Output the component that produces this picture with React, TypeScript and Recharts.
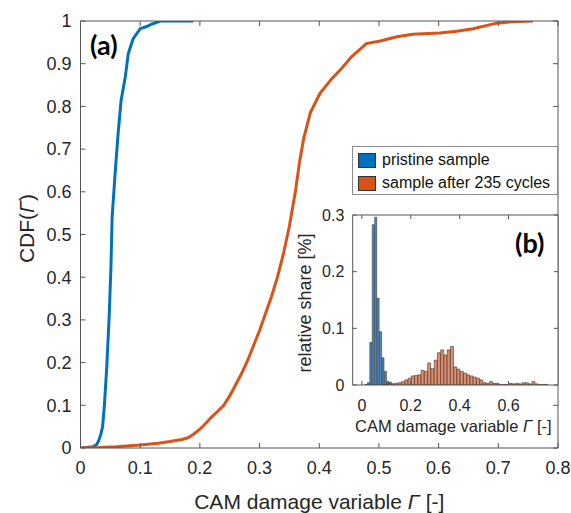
import React from 'react';
import { LineChart, Line, XAxis, YAxis, Legend, BarChart, Bar, CartesianGrid } from 'recharts';

const FONT = '"Liberation Sans", Arial, Helvetica, sans-serif';
const TXT = '#262626';
const AX = '#555555';

// ---- main CDF chart data ----
const blueCdfX = [0, 0.01, 0.021, 0.027, 0.031, 0.034, 0.037, 0.04, 0.044, 0.048, 0.051, 0.053, 0.058, 0.063, 0.068, 0.075, 0.08, 0.088, 0.1, 0.111, 0.12, 0.128, 0.133, 0.189];
const blueCdfY = [0, 0.001, 0.003, 0.008, 0.019, 0.032, 0.05, 0.1, 0.19, 0.307, 0.424, 0.541, 0.643, 0.736, 0.814, 0.869, 0.923, 0.958, 0.982, 0.987, 0.993, 0.997, 1.0, 1.0];
const orangeCdfX = [0, 0.03, 0.06, 0.1, 0.13, 0.15, 0.17, 0.18, 0.19, 0.2, 0.21, 0.22, 0.23, 0.24, 0.25, 0.26, 0.27, 0.28, 0.29, 0.3, 0.31, 0.32, 0.33, 0.34, 0.35, 0.36, 0.367, 0.374, 0.385, 0.401, 0.421, 0.435, 0.454, 0.479, 0.502, 0.53, 0.557, 0.602, 0.63, 0.658, 0.697, 0.72, 0.758];
const orangeCdfY = [0, 0.001, 0.003, 0.007, 0.011, 0.015, 0.02, 0.024, 0.033, 0.044, 0.058, 0.073, 0.086, 0.1, 0.122, 0.148, 0.175, 0.205, 0.24, 0.275, 0.315, 0.355, 0.4, 0.455, 0.52, 0.6, 0.67, 0.725, 0.785, 0.83, 0.865, 0.885, 0.916, 0.947, 0.953, 0.963, 0.969, 0.972, 0.976, 0.982, 0.995, 0.998, 1.0];
const seriesNames = ['pristine sample', 'sample after 235 cycles'];
const seriesColors = ['#0072BD', '#D95319'];

const mainXDomain = [0, 0.8];
const mainYDomain = [0, 1];
const mainXTicks = [0, 0.1, 0.2, 0.3, 0.4, 0.5, 0.6, 0.7, 0.8];
const mainYTicks = [0, 0.1, 0.2, 0.3, 0.4, 0.5, 0.6, 0.7, 0.8, 0.9, 1];

// ---- inset histogram data ----
const insetXDomain = [-0.0375, 0.8025];
const insetYDomain = [0, 0.3];
const insetXTicks = [0, 0.2, 0.4, 0.6];
const insetYTicks = [0, 0.1, 0.2, 0.3];
const blueBinCount = 84;
const orangeBinCount = 63;
const blueShare = [
  0, 0, 0, 0, 0, 0.001, 0.004, 0.075, 0.283, 0.296,
  0.153, 0.094, 0.048, 0.024, 0.006, 0.005, 0.002, 0.001, 0, 0,
  0, 0, 0, 0, 0, 0, 0, 0, 0, 0,
  0, 0, 0, 0, 0, 0, 0, 0, 0, 0,
  0, 0, 0, 0, 0, 0, 0, 0, 0, 0,
  0, 0, 0, 0, 0, 0, 0, 0, 0, 0,
  0, 0, 0, 0, 0, 0, 0, 0, 0, 0,
  0, 0, 0, 0, 0, 0, 0, 0, 0, 0,
  0, 0, 0, 0,
];
const orangeShare = [
  0, 0, 0, 0, 0, 0, 0, 0, 0, 0.001,
  0.001, 0.002, 0.002, 0.003, 0.004, 0.006, 0.009, 0.012, 0.016, 0.017,
  0.018, 0.026, 0.024, 0.039, 0.029, 0.044, 0.057, 0.062, 0.053, 0.062,
  0.068, 0.032, 0.028, 0.024, 0.021, 0.018, 0.016, 0.014, 0.012, 0.009,
  0.004, 0.003, 0.006, 0.003, 0.003, 0.001, 0.001, 0.001, 0.003, 0.002,
  0.003, 0.002, 0.004, 0.004, 0.002, 0.006, 0.002, 0.001, 0.001, 0.001,
  0, 0, 0,
];

const blueData = blueCdfX.map((x, i) => ({ x, y: blueCdfY[i] }));
const orangeData = orangeCdfX.map((x, i) => ({ x, y: orangeCdfY[i] }));
const span = insetXDomain[1] - insetXDomain[0];
const blueBins = blueShare.map((v, i) => ({ bin: i, x: insetXDomain[0] + ((i + 0.5) * span) / blueBinCount, v }));
const orangeBins = orangeShare.map((v, i) => ({ bin: i, x: insetXDomain[0] + ((i + 0.5) * span) / orangeBinCount, v }));

const tickStyle = (size: number) => ({ fontSize: size, fill: TXT, fontFamily: FONT });
const blank = () => '';

const MainXLabel = (props: any) => {
  const vb = props.viewBox || props;
  return (
    <text x={vb.x + vb.width / 2} y={vb.y + 61} textAnchor="middle" fontSize={21} fill={TXT} fontFamily={FONT}>
      CAM damage variable <tspan fontStyle="italic">Γ</tspan> [-]
    </text>
  );
};
const MainYLabel = (props: any) => {
  const vb = props.viewBox || props;
  const x = vb.x + 34;
  const y = vb.y + vb.height / 2 - 6;
  return (
    <text x={x} y={y} transform={`rotate(-90, ${x}, ${y})`} textAnchor="middle" fontSize={21} fill={TXT} fontFamily={FONT}>
      CDF(<tspan fontStyle="italic">Γ</tspan>)
    </text>
  );
};
const InsetXLabel = (props: any) => {
  const vb = props.viewBox || props;
  return (
    <text x={vb.x + vb.width / 2 - 2} y={vb.y + 47} textAnchor="middle" fontSize={16.5} fill={TXT} fontFamily={FONT}>
      CAM damage variable <tspan fontStyle="italic">Γ</tspan> [-]
    </text>
  );
};
const InsetYLabel = (props: any) => {
  const vb = props.viewBox || props;
  const x = vb.x + 31;
  const y = vb.y + vb.height / 2 + 3;
  return (
    <text x={x} y={y} transform={`rotate(-90, ${x}, ${y})`} textAnchor="middle" fontSize={18} fill={TXT} fontFamily={FONT}>
      relative share [%]
    </text>
  );
};

const renderLegend = (props: any) => {
  const payload = props.payload || [];
  return (
    <div style={{ border: '1px solid #8c8c8c', background: '#fff', paddingTop: 1.5, boxSizing: 'border-box', height: 49 }}>
      {payload.map((p: any) => (
        <div key={p.value} style={{ display: 'flex', alignItems: 'center', height: 23, paddingLeft: 5 }}>
          <div style={{ width: 16, height: 13, background: p.color, border: '1px solid #333', marginRight: 6 }} />
          <span style={{ fontSize: 16, fontFamily: FONT, color: '#111', whiteSpace: 'nowrap' }}>{p.value}</span>
        </div>
      ))}
    </div>
  );
};

export default function App() {
  return (
    <div style={{ position: 'absolute', left: 0, top: 0, width: 571, height: 513, background: '#fff' }}>
      <LineChart width={571} height={513} margin={{ top: 20, right: 12, bottom: 0, left: 0 }}>
        <XAxis xAxisId="b" type="number" dataKey="x" domain={mainXDomain} allowDataOverflow ticks={mainXTicks} interval={0}
          height={65} stroke={AX} tickSize={-5} tickMargin={18.7} tick={tickStyle(18)} label={MainXLabel} />
        <XAxis xAxisId="t" orientation="top" type="number" dataKey="x" domain={mainXDomain} allowDataOverflow ticks={mainXTicks} interval={0}
          height={1} stroke={AX} tickSize={-5} tickFormatter={blank} tick={tickStyle(18)} />
        <YAxis yAxisId="l" type="number" domain={mainYDomain} allowDataOverflow ticks={mainYTicks} interval={0}
          width={80.5} stroke={AX} tickSize={-5} tickMargin={14} tick={tickStyle(18)} label={MainYLabel} />
        <YAxis yAxisId="r" orientation="right" type="number" domain={mainYDomain} allowDataOverflow ticks={mainYTicks} interval={0}
          width={1} stroke={AX} tickSize={-5} tickFormatter={blank} tick={tickStyle(18)} />
        <Line xAxisId="b" yAxisId="l" data={blueData} dataKey="y" name={seriesNames[0]} stroke={seriesColors[0]} strokeWidth={3}
          dot={false} activeDot={false} isAnimationActive={false} />
        <Line xAxisId="b" yAxisId="l" data={orangeData} dataKey="y" name={seriesNames[1]} stroke={seriesColors[1]} strokeWidth={3}
          dot={false} activeDot={false} isAnimationActive={false} />
        <Legend layout="vertical" align="center" verticalAlign="middle"
          wrapperStyle={{ left: 352, top: 146, width: 206, height: 49 }} content={renderLegend} />
      </LineChart>

      <div style={{ position: 'absolute', left: 280, top: 205 }}>
        <BarChart width={291} height={240} data={blueBins} barCategoryGap={0} margin={{ top: 10, right: 13, bottom: 60, left: 72.7 }}>
          <CartesianGrid fill="#fff" horizontal={false} vertical={false} />
          <XAxis dataKey="bin" hide />
          <YAxis type="number" domain={insetYDomain} allowDataOverflow hide />
          <Bar dataKey="v" fill="#4f8cc6" stroke="#1e1e1e" strokeWidth={0.5} isAnimationActive={false} />
        </BarChart>
      </div>

      <div style={{ position: 'absolute', left: 280, top: 205 }}>
        <BarChart width={291} height={240} data={orangeBins} barCategoryGap={0} margin={{ top: 9, right: 12, bottom: 0, left: 0 }}>
          <XAxis xAxisId="num" type="number" dataKey="x" domain={insetXDomain} allowDataOverflow ticks={insetXTicks} interval={0}
            height={60} stroke={AX} tickSize={-4} tickMargin={19} tick={tickStyle(16)} label={InsetXLabel} />
          <XAxis xAxisId="cat" dataKey="bin" hide height={0} />
          <XAxis xAxisId="top" orientation="top" type="number" dataKey="x" domain={insetXDomain} allowDataOverflow ticks={insetXTicks} interval={0}
            height={1} stroke={AX} tickSize={-4} tickFormatter={blank} tick={tickStyle(16)} />
          <YAxis yAxisId="l" type="number" domain={insetYDomain} allowDataOverflow ticks={insetYTicks} interval={0}
            width={72.7} stroke={AX} tickSize={-4} tickMargin={12.4} tick={tickStyle(16)} label={InsetYLabel} />
          <YAxis yAxisId="r" orientation="right" type="number" domain={insetYDomain} allowDataOverflow ticks={insetYTicks} interval={0}
            width={1} stroke={AX} tickSize={-4} tickFormatter={blank} tick={tickStyle(16)} />
          <Bar xAxisId="cat" yAxisId="l" dataKey="v" fill="#e28e6b" stroke="#1e1e1e" strokeWidth={0.5} isAnimationActive={false} />
        </BarChart>
      </div>

      <svg width={571} height={513} style={{ position: 'absolute', left: 0, top: 0, pointerEvents: 'none' }}>
        <text x={90} y={55} fontSize={27} fontWeight={700} fontFamily="Lato, 'Open Sans', sans-serif" fill="#000">(a)</text>
        <text x={515} y={253} fontSize={27} fontWeight={700} fontFamily="Lato, 'Open Sans', sans-serif" fill="#000">(b)</text>
      </svg>
    </div>
  );
}
